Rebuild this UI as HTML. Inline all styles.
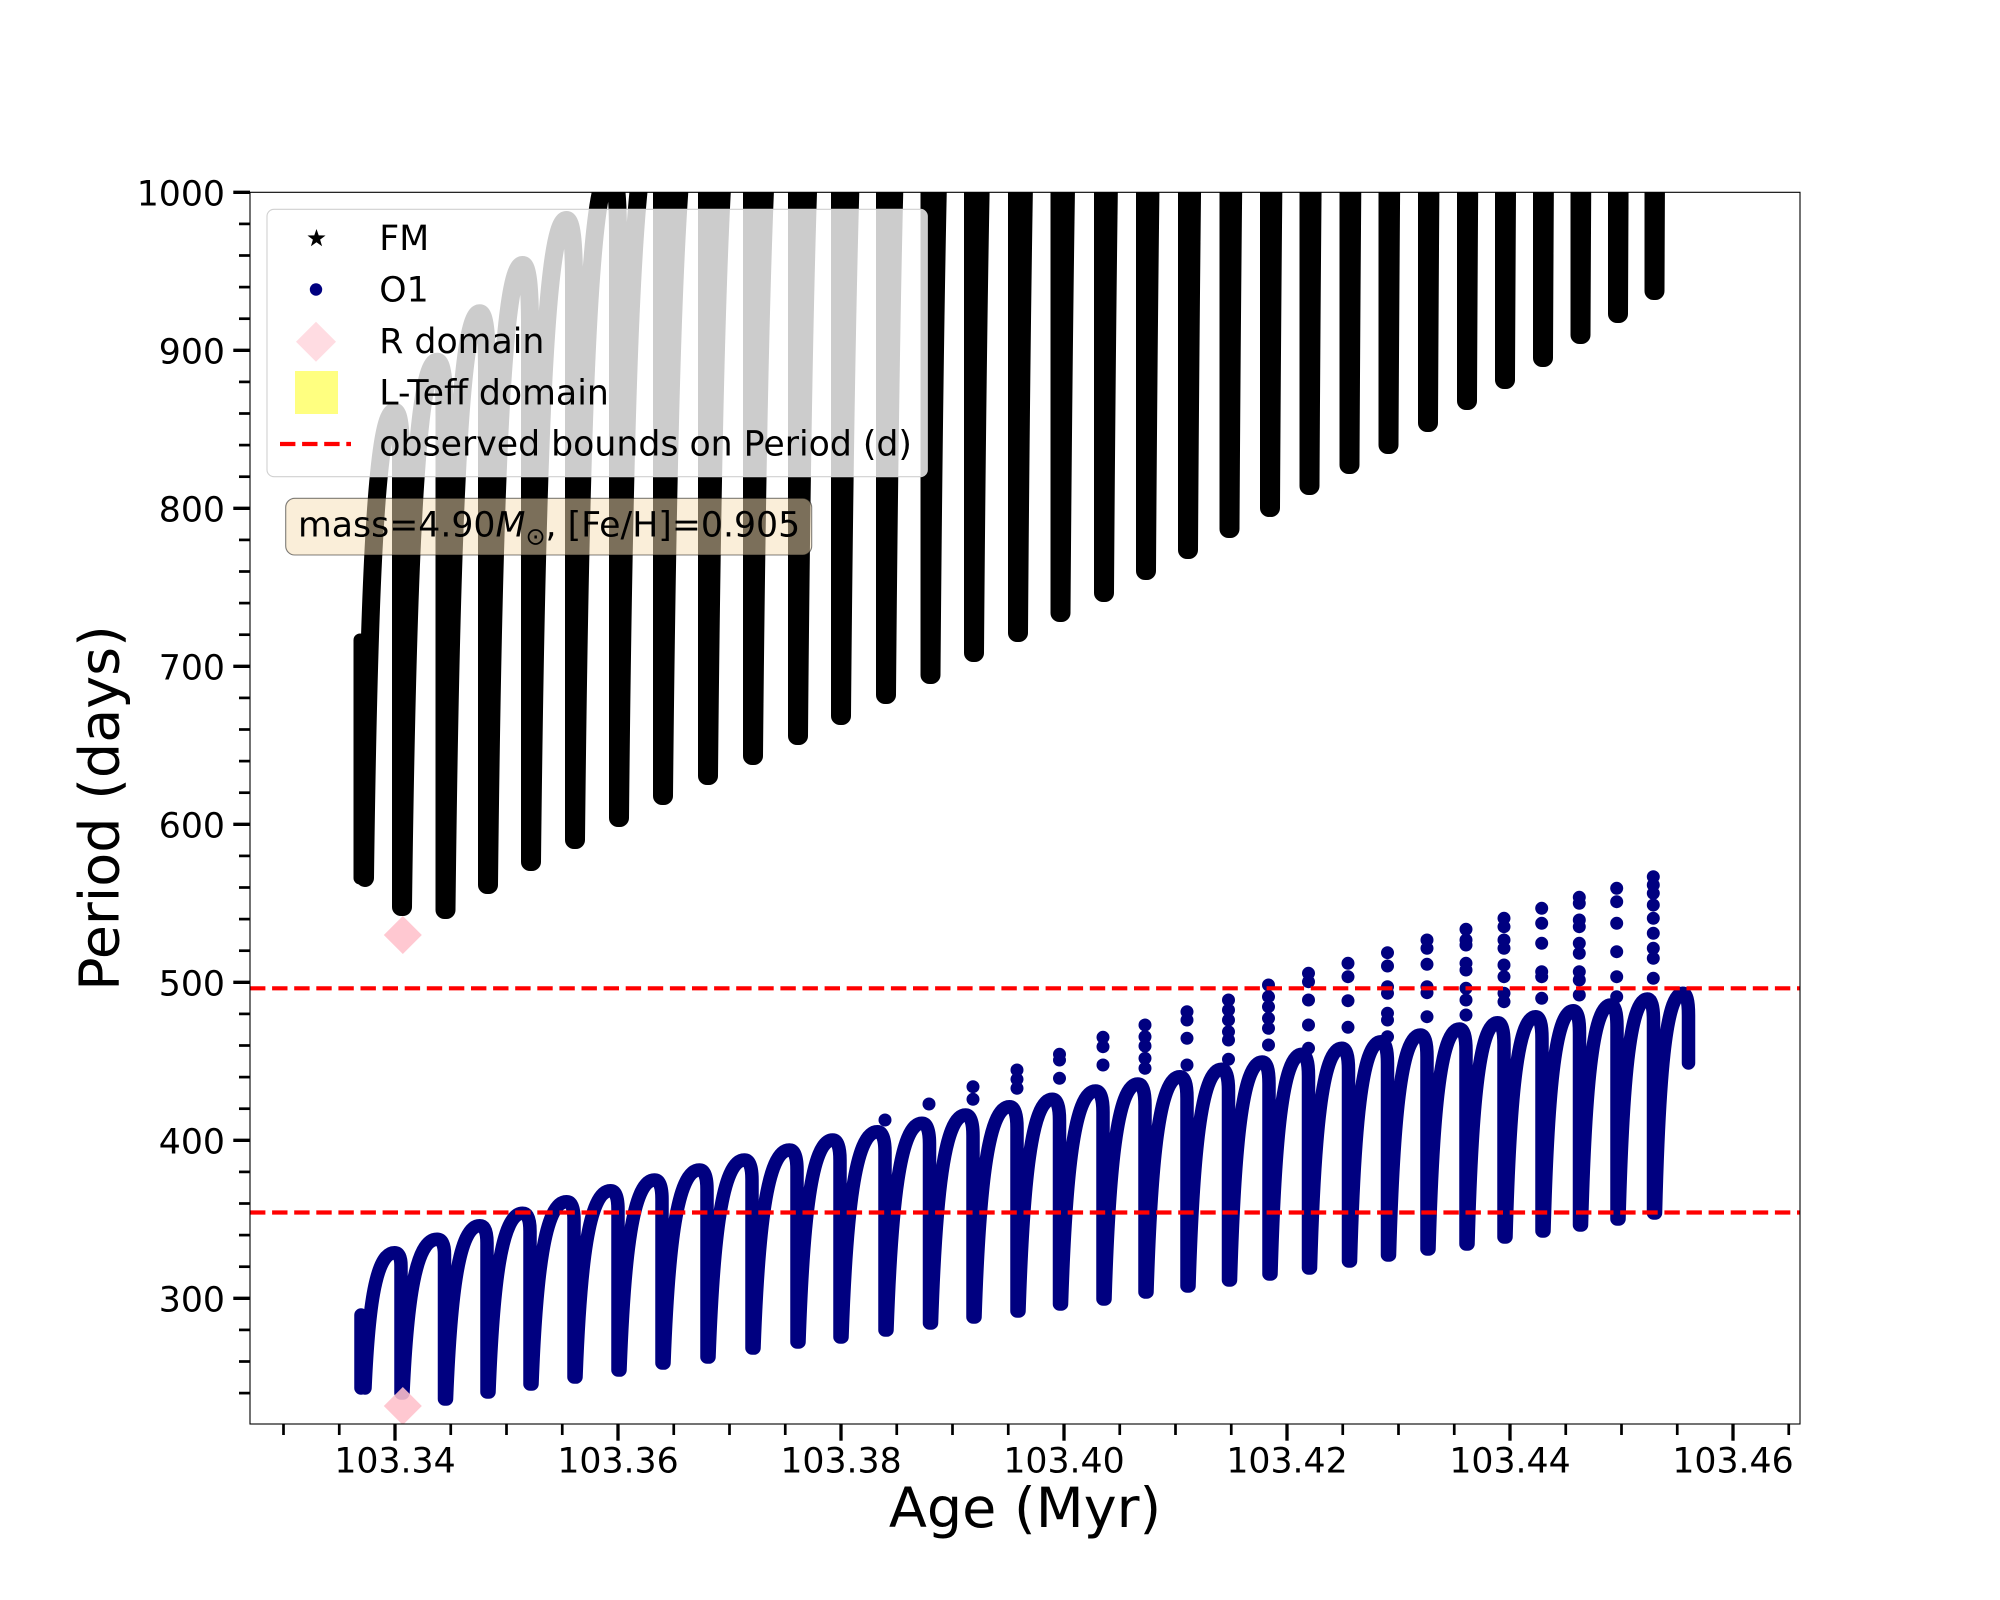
<!DOCTYPE html>
<html>
<head>
<meta charset="utf-8">
<style>
html,body{margin:0;padding:0;background:#fff;}
svg{display:block;}
text{font-family:"DejaVu Sans","Liberation Sans",sans-serif;fill:#000;}
</style>
</head>
<body>
<svg width="2000" height="1600" viewBox="0 0 2000 1600" xmlns="http://www.w3.org/2000/svg">
<defs>
<clipPath id="ax"><rect x="250" y="192.3" width="1550" height="1231.7"/></clipPath>
</defs>
<rect x="0" y="0" width="2000" height="1600" fill="#fff"/>

<g clip-path="url(#ax)">
<!-- FM sparse first column -->
<path fill="none" stroke="#000" stroke-width="13" stroke-linecap="round" d="M360 640 L360 878"/>
<!-- FM series -->
<path fill="none" stroke="#000" stroke-width="18" stroke-linecap="round" stroke-linejoin="round" d="
M365 878 C368.6 598.2 375.8 411.7 394.5 411.7 Q401 411.7 401 458.3 L401 907
M403 907 C407.2 579.8 415.5 361.7 437 361.7 Q444.5 361.7 444.5 416.2 L444.5 910
M446.5 910 C450.6 552 458.7 313.3 479.7 313.3 Q487 313.3 487 373 L487 885
M489 885 C493.1 513 501.3 265 522.6 265 Q530 265 530 327 L530 862
M532 862 C536.2 476.8 544.6 220 566.4 220 Q574 220 574 284.2 L574 840
M576 840 C580.2 439.1 588.6 171.9 610.4 171.9 Q618 171.9 618 238.7 L618 818
M620 818 C624.2 401.5 632.6 123.9 654.4 123.9 Q662 123.9 662 193.3 L662 796
M664 796 C668.3 364 676.9 75.9 699.3 75.9 Q707 75.9 707 147.9 L707 776
M709 776 C713.3 327.1 721.9 27.9 744.3 27.9 Q752 27.9 752 102.7 L752 756
M754 756 C758.3 290.3 766.9 -20.1 789.3 -20.1 Q797 -20.1 797 57.5 L797 736
M799 736 C803.1 253.6 811.3 -68 832.6 -68 Q840 -68 840 12.4 L840 716
M842 716 C846.3 216.8 854.9 -116 877.3 -116 Q885 -116 885 -32.8 L885 695
M887 695 C891.3 179.6 899.8 -164 921.9 -164 Q929.5 -164 929.5 -78.1 L929.5 675
M931.5 675 C935.7 142.8 943.9 -212 965.5 -212 Q973 -212 973 -123.3 L973 653
M975 653 C979.2 105.2 987.6 -260 1009.4 -260 Q1017 -260 1017 -168.7 L1017 633
M1019 633 C1023.1 68.4 1031.2 -308 1052.2 -308 Q1059.5 -308 1059.5 -213.9 L1059.5 613
M1061.5 613 C1065.7 31.6 1073.9 -356 1095.5 -356 Q1103 -356 1103 -259.1 L1103 593
M1105 593 C1109 -5.2 1117 -404 1137.8 -404 Q1145 -404 1145 -304.3 L1145 571
M1147 571 C1151 -42.8 1159 -452 1179.8 -452 Q1187 -452 1187 -349.7 L1187 550
M1189 550 C1193 -80 1200.9 -500 1221.4 -500 Q1228.5 -500 1228.5 -395 L1228.5 529
M1230.5 529 C1234.4 -117.2 1242.1 -548 1262.1 -548 Q1269 -548 1269 -440.3 L1269 508
M1271 508 C1274.8 -154.4 1282.3 -596 1301.8 -596 Q1308.5 -596 1308.5 -485.6 L1308.5 486
M1310.5 486 C1314.3 -192 1321.9 -644 1341.7 -644 Q1348.5 -644 1348.5 -531 L1348.5 465
M1350.5 465 C1354.2 -229.2 1361.6 -692 1380.8 -692 Q1387.5 -692 1387.5 -576.3 L1387.5 445
M1389.5 445 C1393.3 -266 1400.8 -740 1420.3 -740 Q1427 -740 1427 -621.5 L1427 423
M1429 423 C1432.7 -303.6 1440.1 -788 1459.3 -788 Q1466 -788 1466 -666.9 L1466 401
M1468 401 C1471.6 -341.2 1478.8 -836 1497.5 -836 Q1504 -836 1504 -712.3 L1504 380
M1506 380 C1509.6 -378.4 1516.8 -884 1535.5 -884 Q1542 -884 1542 -757.6 L1542 358
M1544 358 C1547.6 -416 1554.7 -932 1573.1 -932 Q1579.5 -932 1579.5 -803 L1579.5 335
M1581.5 335 C1585.1 -454 1592.2 -980 1610.6 -980 Q1617 -980 1617 -848.5 L1617 314
M1619 314 C1622.5 -491.2 1629.4 -1028 1647.3 -1028 Q1653.5 -1028 1653.5 -893.8 L1653.5 291
M1655.5 291 C1658.8 -529.2 1665.4 -1076 1682.6 -1076"/>

<!-- O1 series -->
<path fill="none" stroke="#000080" stroke-width="13.5" stroke-linecap="round" stroke-linejoin="round" d="
M361 1315 L361 1388
M365 1388 C368.6 1306.8 375.8 1252.7 394.5 1252.7 Q401 1252.7 401 1266.2 L401 1393
M403 1393 C407.2 1300.8 415.5 1239.3 437 1239.3 Q444.5 1239.3 444.5 1254.7 L444.5 1399
M446.5 1399 C450.6 1295 458.7 1225.7 479.7 1225.7 Q487 1225.7 487 1243 L487 1392
M489 1392 C493.1 1284.8 501.3 1213.3 522.6 1213.3 Q530 1213.3 530 1231.2 L530 1384
M532 1384 C536.2 1274.6 544.6 1201.7 566.4 1201.7 Q574 1201.7 574 1219.9 L574 1377
M576 1377 C580.2 1265.2 588.6 1190.7 610.4 1190.7 Q618 1190.7 618 1209.3 L618 1370
M620 1370 C624.2 1256 632.6 1180 654.4 1180 Q662 1180 662 1199 L662 1363
M664 1363 C668.3 1247.2 676.9 1170 699.3 1170 Q707 1170 707 1189.3 L707 1357
M709 1357 C713.3 1238.8 721.9 1160 744.3 1160 Q752 1160 752 1179.7 L752 1348
M754 1348 C758.3 1229.2 766.9 1150 789.3 1150 Q797 1150 797 1169.8 L797 1342
M799 1342 C803.1 1220.8 811.3 1140 832.6 1140 Q840 1140 840 1160.2 L840 1337
M842 1337 C846.3 1213.8 854.9 1131.7 877.3 1131.7 Q885 1131.7 885 1152.2 L885 1330
M887 1330 C891.3 1206 899.8 1123.3 921.9 1123.3 Q929.5 1123.3 929.5 1144 L929.5 1323
M931.5 1323 C935.7 1198.2 943.9 1115 965.5 1115 Q973 1115 973 1135.8 L973 1317
M975 1317 C979.2 1190.8 987.6 1106.7 1009.4 1106.7 Q1017 1106.7 1017 1127.7 L1017 1311
M1019 1311 C1023.1 1184 1031.2 1099.3 1052.2 1099.3 Q1059.5 1099.3 1059.5 1120.5 L1059.5 1304
M1061.5 1304 C1065.7 1176.2 1073.9 1091 1095.5 1091 Q1103 1091 1103 1112.3 L1103 1299
M1105 1299 C1109 1170 1117 1084 1137.8 1084 Q1145 1084 1145 1105.5 L1145 1292
M1147 1292 C1151 1162.8 1159 1076.7 1179.8 1076.7 Q1187 1076.7 1187 1098.2 L1187 1286
M1189 1286 C1193 1156 1200.9 1069.3 1221.4 1069.3 Q1228.5 1069.3 1228.5 1091 L1228.5 1280
M1230.5 1280 C1234.4 1149.2 1242.1 1062 1262.1 1062 Q1269 1062 1269 1083.8 L1269 1274
M1271 1274 C1274.8 1142.2 1282.3 1054.3 1301.8 1054.3 Q1308.5 1054.3 1308.5 1076.3 L1308.5 1268
M1310.5 1268 C1314.3 1136.2 1321.9 1048.3 1341.7 1048.3 Q1348.5 1048.3 1348.5 1070.3 L1348.5 1261
M1350.5 1261 C1354.2 1129.4 1361.6 1041.7 1380.8 1041.7 Q1387.5 1041.7 1387.5 1063.6 L1387.5 1255
M1389.5 1255 C1393.3 1123 1400.8 1035 1420.3 1035 Q1427 1035 1427 1057 L1427 1249
M1429 1249 C1432.7 1117 1440.1 1029 1459.3 1029 Q1466 1029 1466 1051 L1466 1244
M1468 1244 C1471.6 1111.2 1478.8 1022.7 1497.5 1022.7 Q1504 1022.7 1504 1044.8 L1504 1237
M1506 1237 C1509.6 1104.8 1516.8 1016.7 1535.5 1016.7 Q1542 1016.7 1542 1038.7 L1542 1231
M1544 1231 C1547.6 1098.8 1554.7 1010.7 1573.1 1010.7 Q1579.5 1010.7 1579.5 1032.7 L1579.5 1225
M1581.5 1225 C1585.1 1093 1592.2 1005 1610.6 1005 Q1617 1005 1617 1027 L1617 1219
M1619 1219 C1622.5 1087 1629.4 999 1647.3 999 Q1653.5 999 1653.5 1021 L1653.5 1213
M1655.5 1213 C1658.8 1081.2 1665.4 993.3 1682.6 993.3 Q1688.5 993.3 1688.5 1015.3 L1688.5 1063"/>

<!-- O1 sparse dots above arches -->
<path fill="none" stroke="#000080" stroke-width="13" stroke-linecap="round" d="
M885 1120h0
M929 1104h0
M973 1086.7h0 M973 1099.3h0
M1017 1070h0 M1017 1079.3h0 M1017 1088.3h0
M1059.5 1054.3h0 M1059.5 1060h0 M1059.5 1078.3h0
M1103 1037.3h0 M1103 1046.7h0 M1103 1065h0
M1145 1025h0 M1145 1036.7h0 M1145 1046h0 M1145 1058.3h0 M1145 1068.3h0
M1187 1011.7h0 M1187 1020h0 M1187 1038.3h0 M1187 1065h0
M1228.5 1000h0 M1228.5 1010h0 M1228.5 1020h0 M1228.5 1031.7h0 M1228.5 1040h0 M1228.5 1059.3h0
M1268.5 985h0 M1268.5 996.7h0 M1268.5 1006.7h0 M1268.5 1018.3h0 M1268.5 1028.3h0 M1268.5 1045h0
M1308.5 973.3h0 M1308.5 981.7h0 M1308.5 1000h0 M1308.5 1025h0 M1308.5 1048.3h0
M1348 963.3h0 M1348 976.7h0 M1348 1000.7h0 M1348 1027.3h0
M1387.5 952.7h0 M1387.5 966h0 M1387.5 986.7h0 M1387.5 993.3h0 M1387.5 1013.3h0 M1387.5 1020h0 M1387.5 1036.7h0
M1427 940h0 M1427 948.3h0 M1427 964.3h0 M1427 986.7h0 M1427 992.7h0 M1427 1016.7h0
M1466 929.3h0 M1466 940h0 M1466 945h0 M1466 963.3h0 M1466 970h0 M1466 988.3h0 M1466 1000h0 M1466 1015h0
M1504 918.3h0 M1504 926.7h0 M1504 940h0 M1504 948.3h0 M1504 965h0 M1504 976.7h0 M1504 993.3h0 M1504 1001.7h0
M1541.7 908.3h0 M1541.7 923.3h0 M1541.7 943.3h0 M1541.7 971.7h0 M1541.7 976.7h0 M1541.7 998.3h0
M1579.3 897.3h0 M1579.3 903.3h0 M1579.3 920h0 M1579.3 926.7h0 M1579.3 943.3h0 M1579.3 953.3h0 M1579.3 971.7h0 M1579.3 980h0 M1579.3 995h0
M1616.7 888.3h0 M1616.7 901.7h0 M1616.7 923.3h0 M1616.7 951.7h0 M1616.7 976.7h0 M1616.7 996.7h0
M1653.3 876.7h0 M1653.3 885h0 M1653.3 893.3h0 M1653.3 905h0 M1653.3 918.3h0 M1653.3 933.3h0 M1653.3 948.3h0 M1653.3 958.3h0 M1653.3 978.3h0"/>

<!-- R domain diamonds -->
<polygon points="402.8,916 421.8,935 402.8,954 383.8,935" fill="#ffc0cb" fill-opacity="0.88"/>
<polygon points="402.8,1387 421.8,1406 402.8,1425 383.8,1406" fill="#ffc0cb" fill-opacity="0.88"/>

<!-- observed bounds -->
<line x1="250" y1="988.3" x2="1800" y2="988.3" stroke="#ff0000" stroke-width="4.17" stroke-dasharray="15.4 6.7"/>
<line x1="250" y1="1212.5" x2="1800" y2="1212.5" stroke="#ff0000" stroke-width="4.17" stroke-dasharray="15.4 6.7"/>
</g>

<!-- text box -->
<rect x="285.7" y="498.3" width="526" height="56.7" rx="9" ry="9" fill="#f5deb3" fill-opacity="0.5" stroke="#000" stroke-opacity="0.5" stroke-width="1.1"/>
<text x="298" y="536.7" font-size="34.7">mass=4.90<tspan font-style="italic">M</tspan><tspan font-size="24" dy="8">⊙</tspan><tspan dy="-8">, [Fe/H]=0.905</tspan></text>

<!-- spines -->
<rect x="250" y="192.3" width="1550" height="1231.7" fill="none" stroke="#000" stroke-width="1.1"/>

<!-- y ticks -->
<g stroke="#000" stroke-width="3.3">
<line x1="233.3" y1="192.3" x2="250" y2="192.3"/>
<line x1="233.3" y1="350.3" x2="250" y2="350.3"/>
<line x1="233.3" y1="508.3" x2="250" y2="508.3"/>
<line x1="233.3" y1="666.3" x2="250" y2="666.3"/>
<line x1="233.3" y1="824.3" x2="250" y2="824.3"/>
<line x1="233.3" y1="982.3" x2="250" y2="982.3"/>
<line x1="233.3" y1="1140.3" x2="250" y2="1140.3"/>
<line x1="233.3" y1="1298.3" x2="250" y2="1298.3"/>
</g>
<g stroke="#000" stroke-width="2.7">
<line x1="239" y1="223.9" x2="250" y2="223.9"/>
<line x1="239" y1="255.5" x2="250" y2="255.5"/>
<line x1="239" y1="287.1" x2="250" y2="287.1"/>
<line x1="239" y1="318.7" x2="250" y2="318.7"/>
<line x1="239" y1="381.9" x2="250" y2="381.9"/>
<line x1="239" y1="413.5" x2="250" y2="413.5"/>
<line x1="239" y1="445.1" x2="250" y2="445.1"/>
<line x1="239" y1="476.7" x2="250" y2="476.7"/>
<line x1="239" y1="539.9" x2="250" y2="539.9"/>
<line x1="239" y1="571.5" x2="250" y2="571.5"/>
<line x1="239" y1="603.1" x2="250" y2="603.1"/>
<line x1="239" y1="634.7" x2="250" y2="634.7"/>
<line x1="239" y1="697.9" x2="250" y2="697.9"/>
<line x1="239" y1="729.5" x2="250" y2="729.5"/>
<line x1="239" y1="761.1" x2="250" y2="761.1"/>
<line x1="239" y1="792.7" x2="250" y2="792.7"/>
<line x1="239" y1="855.9" x2="250" y2="855.9"/>
<line x1="239" y1="887.5" x2="250" y2="887.5"/>
<line x1="239" y1="919.1" x2="250" y2="919.1"/>
<line x1="239" y1="950.7" x2="250" y2="950.7"/>
<line x1="239" y1="1013.9" x2="250" y2="1013.9"/>
<line x1="239" y1="1045.5" x2="250" y2="1045.5"/>
<line x1="239" y1="1077.1" x2="250" y2="1077.1"/>
<line x1="239" y1="1108.7" x2="250" y2="1108.7"/>
<line x1="239" y1="1171.9" x2="250" y2="1171.9"/>
<line x1="239" y1="1203.5" x2="250" y2="1203.5"/>
<line x1="239" y1="1235.1" x2="250" y2="1235.1"/>
<line x1="239" y1="1266.7" x2="250" y2="1266.7"/>
<line x1="239" y1="1329.9" x2="250" y2="1329.9"/>
<line x1="239" y1="1361.5" x2="250" y2="1361.5"/>
<line x1="239" y1="1393.1" x2="250" y2="1393.1"/>
</g>
<g font-size="34.7" text-anchor="end">
<text x="225" y="205.3">1000</text>
<text x="225" y="363.3">900</text>
<text x="225" y="521.3">800</text>
<text x="225" y="679.3">700</text>
<text x="225" y="837.3">600</text>
<text x="225" y="995.3">500</text>
<text x="225" y="1153.3">400</text>
<text x="225" y="1311.3">300</text>
</g>

<!-- x ticks -->
<g stroke="#000" stroke-width="3.3">
<line x1="395" y1="1424" x2="395" y2="1440.7"/>
<line x1="618" y1="1424" x2="618" y2="1440.7"/>
<line x1="841" y1="1424" x2="841" y2="1440.7"/>
<line x1="1064" y1="1424" x2="1064" y2="1440.7"/>
<line x1="1287" y1="1424" x2="1287" y2="1440.7"/>
<line x1="1510" y1="1424" x2="1510" y2="1440.7"/>
<line x1="1733" y1="1424" x2="1733" y2="1440.7"/>
</g>
<g stroke="#000" stroke-width="2.7">
<line x1="283.5" y1="1424" x2="283.5" y2="1435"/>
<line x1="339.25" y1="1424" x2="339.25" y2="1435"/>
<line x1="450.75" y1="1424" x2="450.75" y2="1435"/>
<line x1="506.5" y1="1424" x2="506.5" y2="1435"/>
<line x1="562.25" y1="1424" x2="562.25" y2="1435"/>
<line x1="673.75" y1="1424" x2="673.75" y2="1435"/>
<line x1="729.5" y1="1424" x2="729.5" y2="1435"/>
<line x1="785.25" y1="1424" x2="785.25" y2="1435"/>
<line x1="896.75" y1="1424" x2="896.75" y2="1435"/>
<line x1="952.5" y1="1424" x2="952.5" y2="1435"/>
<line x1="1008.25" y1="1424" x2="1008.25" y2="1435"/>
<line x1="1119.75" y1="1424" x2="1119.75" y2="1435"/>
<line x1="1175.5" y1="1424" x2="1175.5" y2="1435"/>
<line x1="1231.25" y1="1424" x2="1231.25" y2="1435"/>
<line x1="1342.75" y1="1424" x2="1342.75" y2="1435"/>
<line x1="1398.5" y1="1424" x2="1398.5" y2="1435"/>
<line x1="1454.25" y1="1424" x2="1454.25" y2="1435"/>
<line x1="1565.75" y1="1424" x2="1565.75" y2="1435"/>
<line x1="1621.5" y1="1424" x2="1621.5" y2="1435"/>
<line x1="1677.25" y1="1424" x2="1677.25" y2="1435"/>
<line x1="1788.75" y1="1424" x2="1788.75" y2="1435"/>
</g>
<g font-size="34.7" text-anchor="middle">
<text x="395" y="1472.7">103.34</text>
<text x="618" y="1472.7">103.36</text>
<text x="841" y="1472.7">103.38</text>
<text x="1064" y="1472.7">103.40</text>
<text x="1287" y="1472.7">103.42</text>
<text x="1510" y="1472.7">103.44</text>
<text x="1733" y="1472.7">103.46</text>
</g>

<!-- axis labels -->
<text x="1025" y="1527" font-size="55.6" text-anchor="middle">Age (Myr)</text>
<text transform="translate(118.3,808) rotate(-90)" x="0" y="0" font-size="55.6" text-anchor="middle">Period (days)</text>

<!-- legend -->
<rect x="267" y="209.3" width="660.3" height="267.4" rx="7" ry="7" fill="#fff" fill-opacity="0.8" stroke="#d0d0d0" stroke-width="1.1"/>
<polygon points="316.5,229 318.73,235.43 325.54,235.56 320.11,239.67 322.08,246.19 316.5,242.3 310.92,246.19 312.89,239.67 307.47,235.56 314.27,235.43" fill="#000"/>
<circle cx="316" cy="289.5" r="6.2" fill="#000080"/>
<polygon points="316,321.7 336,341.7 316,361.7 296,341.7" fill="#ffc0cb" fill-opacity="0.55"/>
<rect x="295" y="371" width="43" height="43" fill="#ffff80"/>
<line x1="280" y1="444" x2="351" y2="444" stroke="#ff0000" stroke-width="4.17" stroke-dasharray="15.4 6.7"/>
<g font-size="34.7">
<text x="379.3" y="250">FM</text>
<text x="379.3" y="301.5">O1</text>
<text x="379.3" y="353">R domain</text>
<text x="379.3" y="404.5">L-Teff domain</text>
<text x="379.3" y="455.5">observed bounds on Period (d)</text>
</g>
</svg>
</body>
</html>
